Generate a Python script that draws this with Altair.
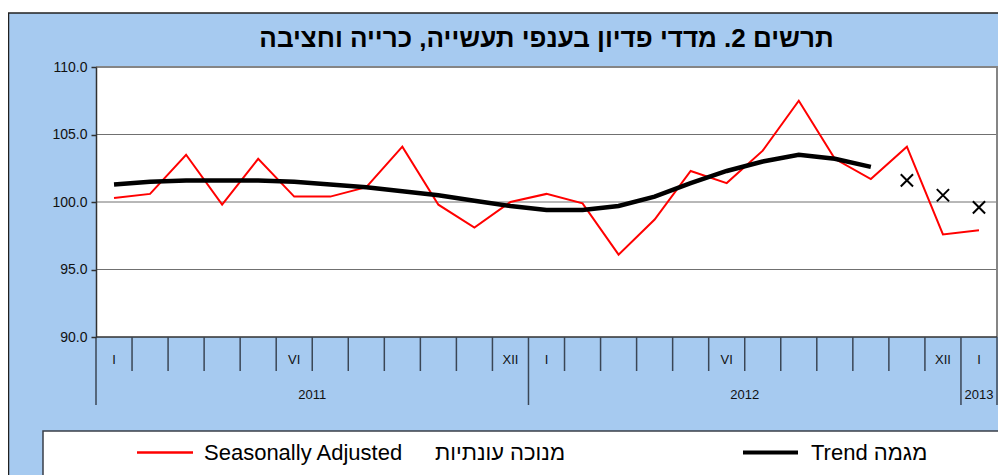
import altair as alt
import pandas as pd

# ---- data ----
month_labels = ["I", "", "", "", "", "VI", "", "", "", "", "", "XII",
                "I", "", "", "", "", "VI", "", "", "", "", "", "XII",
                "I"]
years = ["2011"] * 12 + ["2012"] * 12 + ["2013"]
seasonally_adjusted = [100.3, 100.6, 103.5, 99.8, 103.2, 100.4, 100.4, 101.1, 104.1, 99.8, 98.1, 100.0,
                       100.6, 99.9, 96.1, 98.7, 102.3, 101.4, 103.8, 107.5, 103.2, 101.7, 104.1, 97.6,
                       97.9]
trend = [101.3, 101.5, 101.6, 101.6, 101.6, 101.5, 101.3, 101.1, 100.8, 100.5, 100.1, 99.7,
         99.4, 99.4, 99.7, 100.4, 101.4, 102.3, 103.0, 103.5, 103.2, 102.6]
trend_projection = [101.6, 100.5, 99.6]
y_ticks = [90.0, 95.0, 100.0, 105.0, 110.0]
title_text = "תרשים 2. מדדי פדיון בענפי תעשייה, כרייה וחציבה"
legend_sa_en = "Seasonally Adjusted"
legend_sa_he = "מנוכה עונתיות"
legend_trend = "Trend מגמה"

# ---- tables ----
n = len(month_labels)
df = pd.DataFrame({
    "pos": [i + 0.5 for i in range(n)],
    "label": month_labels,
    "year": years,
    "sa": seasonally_adjusted,
    "trend": trend + [None] * (n - len(trend)),
})
proj_df = pd.DataFrame({
    "pos": [i + 0.5 for i in range(n - len(trend_projection), n)],
    "v": trend_projection,
})
bounds = pd.DataFrame({
    "k": list(range(n + 1)),
    "long": [k == 0 or k == n or years[k] != years[k - 1] for k in range(n + 1)],
})
year_df = df.groupby("year", as_index=False)["pos"].mean()
grid_df = pd.DataFrame({"v": y_ticks[1:-1]})

W, H = 901, 270
BLUE = "#A6CAF0"
FONT = "Liberation Sans"

xs = alt.Scale(domain=[0, n], nice=False, zero=False)
ys = alt.Scale(domain=[y_ticks[0], y_ticks[-1]], nice=False, zero=False)
yax = alt.Axis(values=y_ticks, format=".1f", grid=False, tickSize=5, tickColor="#303030",
               domainColor="#303030", domainWidth=1.5, tickWidth=1.5, labelFont=FONT,
               labelFontSize=14, labelColor="#111111", labelPadding=4, title=None, zindex=1)
one = pd.DataFrame({"a": [0]})


def Y(field):
    return alt.Y(field, scale=ys, axis=yax)


def X(field):
    return alt.X(field, scale=xs, axis=None)


blue = alt.Chart(one).mark_rect(color=BLUE).encode(
    x=alt.value(-88), x2=alt.value(905), y=alt.value(-54), y2=alt.value(420))
frame_top = alt.Chart(one).mark_rule(color="#202020", strokeWidth=1.5).encode(
    x=alt.value(-88), x2=alt.value(905), y=alt.value(-54))
frame_left = alt.Chart(one).mark_rule(color="#202020", strokeWidth=1.5).encode(
    x=alt.value(-87.5), y=alt.value(-54), y2=alt.value(420))
legend_box = alt.Chart(one).mark_rect(color="white", stroke="#3a3f48", strokeWidth=1.5).encode(
    x=alt.value(-53), x2=alt.value(930), y=alt.value(364), y2=alt.value(430))
plot_bg = alt.Chart(one).mark_rect(color="white").encode(
    x=alt.value(0), x2=alt.value(W), y=alt.value(0), y2=alt.value(H))

grid = alt.Chart(grid_df).mark_rule(color="#707070", strokeWidth=1).encode(
    y=Y("v:Q"), x=alt.value(0), x2=alt.value(W))
top_border = alt.Chart(pd.DataFrame({"v": [y_ticks[-1]]})).mark_rule(color="#858585", strokeWidth=2).encode(
    y=Y("v:Q"), x=alt.value(0), x2=alt.value(W + 1))
right_border = alt.Chart(pd.DataFrame({"k": [n]})).mark_rule(color="#858585", strokeWidth=2).encode(
    x=X("k:Q"), y=alt.value(0), y2=alt.value(H))
bottom_border = alt.Chart(pd.DataFrame({"v": [y_ticks[0]]})).mark_rule(color="#303030", strokeWidth=1.5).encode(
    y=Y("v:Q"), x=alt.value(0), x2=alt.value(W))

short_ticks = alt.Chart(bounds[~bounds["long"]]).mark_rule(color="#3a4656", strokeWidth=1.5).encode(
    x=X("k:Q"), y=alt.value(H), y2=alt.value(H + 34))
long_ticks = alt.Chart(bounds[bounds["long"]]).mark_rule(color="#3a4656", strokeWidth=1.5).encode(
    x=X("k:Q"), y=alt.value(H), y2=alt.value(H + 68))

month_text = alt.Chart(df[df["label"] != ""]).mark_text(
    font=FONT, fontSize=13, color="#111111", baseline="middle", align="center").encode(
    x=X("pos:Q"), y=alt.value(H + 23), text="label:N")
year_text = alt.Chart(year_df).mark_text(
    font=FONT, fontSize=13, color="#111111", baseline="middle", align="center").encode(
    x=X("pos:Q"), y=alt.value(H + 58), text="year:N")

sa_line = alt.Chart(df).mark_line(color="#FF0000", strokeWidth=2).encode(
    x=X("pos:Q"), y=Y("sa:Q"))
trend_line = alt.Chart(df).mark_line(color="black", strokeWidth=4.5).encode(
    x=X("pos:Q"), y=Y("trend:Q"))
proj_pts = alt.Chart(proj_df).mark_point(
    shape="M-1,-1L1,1M-1,1L1,-1", size=150, filled=False, color="black", strokeWidth=2, opacity=1).encode(
    x=X("pos:Q"), y=Y("v:Q"))

title = alt.Chart(pd.DataFrame({"t": [title_text]})).mark_text(
    font=FONT, fontSize=26, fontWeight="bold", color="black", baseline="alphabetic", align="center").encode(
    x=alt.value(W / 2), y=alt.value(-20), text="t:N")

leg_sa_line = alt.Chart(one).mark_rule(color="#FF0000", strokeWidth=2.5).encode(
    x=alt.value(41), x2=alt.value(97), y=alt.value(385.5))
leg_sa_text_en = alt.Chart(pd.DataFrame({"t": [legend_sa_en]})).mark_text(
    font=FONT, fontSize=22, color="black", baseline="alphabetic", align="left").encode(
    x=alt.value(108), y=alt.value(393), text="t:N")
leg_sa_text_he = alt.Chart(pd.DataFrame({"t": [legend_sa_he]})).mark_text(
    font=FONT, fontSize=22, color="black", baseline="alphabetic", align="right").encode(
    x=alt.value(469), y=alt.value(393), text="t:N")
leg_tr_line = alt.Chart(one).mark_rule(color="black", strokeWidth=4).encode(
    x=alt.value(647), x2=alt.value(702), y=alt.value(385.5))
leg_tr_text = alt.Chart(pd.DataFrame({"t": [legend_trend]})).mark_text(
    font=FONT, fontSize=22, color="black", baseline="alphabetic", align="left").encode(
    x=alt.value(715), y=alt.value(393), text="t:N")

chart = alt.layer(
    blue, frame_top, frame_left, legend_box, plot_bg, grid, top_border, right_border, bottom_border,
    short_ticks, long_ticks, month_text, year_text, sa_line, trend_line, proj_pts, title,
    leg_sa_line, leg_sa_text_en, leg_sa_text_he, leg_tr_line, leg_tr_text,
).properties(
    width=W, height=H,
    padding={"left": 88, "top": 59, "right": 1, "bottom": 138},
    autosize=alt.AutoSizeParams(type="none"),
).configure_view(stroke=None)

chart.save("out.html", embed_options={"renderer": "svg", "actions": False})
